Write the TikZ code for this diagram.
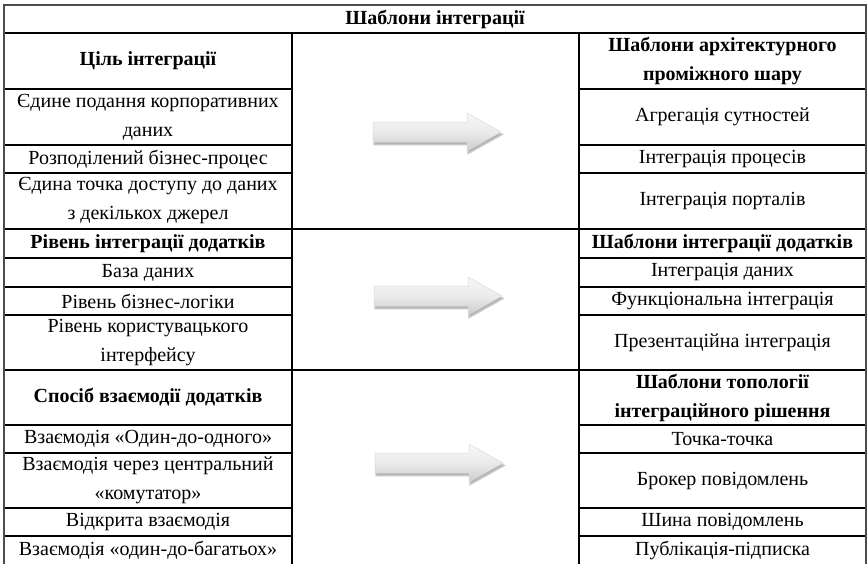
\documentclass[tikz,border=0pt]{standalone}
\usepackage{fontspec}
\setmainfont{Liberation Serif}

\tikzset{
  gridline/.style={draw=black, line width=1.2pt},
  frameline/.style={draw=black!70, line width=1.8pt},
  celltext/.style={align=center, inner sep=0pt, font=\fontsize{20}{29}\selectfont},
  headtext/.style={celltext, font=\fontsize{20}{29}\selectfont\bfseries},
  flowarrow/.style={draw=black!15, line width=0.5pt,
    top color=black!3, bottom color=black!20, middle color=black!8},
  arrowshadow/.style={fill=black!30, draw=black!22, line width=1.5pt},
}

% one table cell: name, x1, y1, x2, y2, style, text
\newcommand\tabcell[7]{%
  \draw[gridline] (#2,#3) rectangle (#4,#5);
  \node[#6] (#1) at ({(#2+#4)/2},{(#3+#5)/2}) {#7};
}

% outline of a block arrow with left end x, axis y
\newcommand\arrowoutline[2]{(#1,#2-10) -- (#1+94,#2-10) -- (#1+94,#2-19) -- (#1+128,#2)
    -- (#1+94,#2+19) -- (#1+94,#2+10) -- (#1,#2+10) -- cycle}

% block arrow with its shadow: name, left end x, axis y
\newcommand\blockarrow[3]{%
  \begin{scope}[shift={(1,2.5)}]
    \path[arrowshadow] \arrowoutline{#2}{#3};
  \end{scope}
  \path[flowarrow] \arrowoutline{#2}{#3};
  \coordinate (#1) at (#2+64,#3);
}

\begin{document}
\begin{tikzpicture}[x=1pt,y=-1pt]
\clip (0,0) rectangle (868,563);
\fill[white] (0,0) rectangle (868,563);

% title row
\tabcell{title}{4}{5}{866}{33}{headtext}{Шаблони інтеграції}

% middle column blocks
\tabcell{midA}{292}{33}{579}{229}{celltext}{}
\tabcell{midB}{292}{229}{579}{370}{celltext}{}
\tabcell{midC}{292}{370}{579}{575}{celltext}{}

% section 1: goals and middleware patterns
\tabcell{goalH}{4}{33}{292}{89}{headtext}{Ціль інтеграції}
\tabcell{goalA}{4}{89}{292}{145}{celltext}{Єдине подання корпоративних\\даних}
\tabcell{goalB}{4}{145}{292}{173}{celltext}{Розподілений бізнес-процес}
\tabcell{goalC}{4}{173}{292}{229}{celltext}{Єдина точка доступу до даних\\з декількох джерел}

\tabcell{archH}{579}{33}{866}{89}{headtext}{Шаблони архітектурного\\проміжного шару}
\tabcell{archA}{579}{89}{866}{145}{celltext}{Агрегація сутностей}
\tabcell{archB}{579}{145}{866}{173}{celltext}{Інтеграція процесів}
\tabcell{archC}{579}{173}{866}{229}{celltext}{Інтеграція порталів}

% section 2: application levels and integration patterns
\tabcell{levelH}{4}{229}{292}{258}{headtext}{Рівень інтеграції додатків}
\tabcell{levelA}{4}{258}{292}{287}{celltext}{База даних}
\tabcell{levelB}{4}{287}{292}{315}{celltext}{Рівень бізнес-логіки}
\tabcell{levelC}{4}{315}{292}{370}{celltext}{Рівень користувацького\\інтерфейсу}

\tabcell{appH}{579}{229}{866}{258}{headtext}{Шаблони інтеграції додатків}
\tabcell{appA}{579}{258}{866}{287}{celltext}{Інтеграція даних}
\tabcell{appB}{579}{287}{866}{315}{celltext}{Функціональна інтеграція}
\tabcell{appC}{579}{315}{866}{370}{celltext}{Презентаційна інтеграція}

% section 3: interaction modes and topology patterns
\tabcell{modeH}{4}{370}{292}{425}{headtext}{Спосіб взаємодії додатків}
\tabcell{modeA}{4}{425}{292}{453}{celltext}{Взаємодія «Один-до-одного»}
\tabcell{modeB}{4}{453}{292}{508}{celltext}{Взаємодія через центральний\\«комутатор»}
\tabcell{modeC}{4}{508}{292}{536}{celltext}{Відкрита взаємодія}
\tabcell{modeD}{4}{536}{292}{565}{celltext}{Взаємодія «один-до-багатьох»}

\tabcell{topoH}{579}{370}{866}{425}{headtext}{Шаблони топології\\інтеграційного рішення}
\tabcell{topoA}{579}{425}{866}{453}{celltext}{Точка-точка}
\tabcell{topoB}{579}{453}{866}{508}{celltext}{Брокер повідомлень}
\tabcell{topoC}{579}{508}{866}{536}{celltext}{Шина повідомлень}
\tabcell{topoD}{579}{536}{866}{565}{celltext}{Публікація-підписка}

% outer frame
\draw[frameline] (4,575) -- (4,5) -- (866,5) -- (866,575);

% arrows between the columns
\blockarrow{arrA}{373}{132}
\blockarrow{arrB}{374}{296}
\blockarrow{arrC}{375}{463}
\end{tikzpicture}
\end{document}
